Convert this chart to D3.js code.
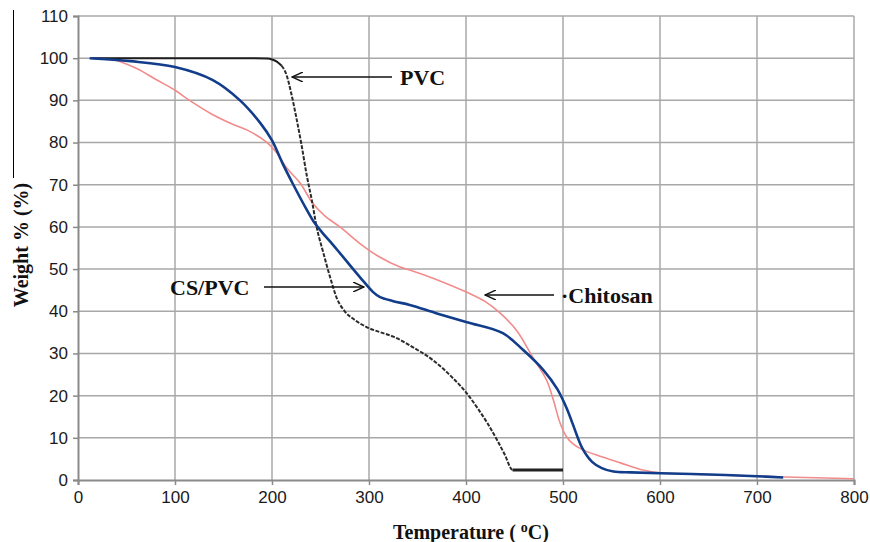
<!DOCTYPE html>
<html>
<head>
<meta charset="utf-8">
<script src="https://cdn.jsdelivr.net/npm/d3@7"></script>
<style>
  body { margin: 0; background: #fff; }
  svg { display: block; }
</style>
</head>
<body>
<div id="chart"></div>
<script>
// TGA curves: weight % vs temperature
var xTicks = [0, 100, 200, 300, 400, 500, 600, 700, 800];
var yTicks = [0, 10, 20, 30, 40, 50, 60, 70, 80, 90, 100, 110];

var pvcT = [15, 60, 120, 180, 195, 200, 205, 210, 215, 220, 225, 230, 236, 241, 246, 253, 260, 267, 275, 285, 298, 312, 325, 345, 366, 385, 401, 412, 422, 432, 440, 448, 500];
var pvcW = [100, 100, 100, 100, 99.9, 99.7, 99.2, 98.2, 96, 91.5, 86, 80, 72, 66.4, 60, 53.8, 48, 43, 40, 38, 36.2, 35, 34, 31.5, 28.4, 24.5, 20.5, 17, 13.5, 9.5, 6, 2.4, 2.4];

var cspvcT = [12, 54, 100, 139, 167, 188, 200, 211, 222, 236, 244, 252, 262, 270, 280, 291, 304, 311, 325, 342, 370, 401, 438, 459, 480, 494, 504, 510, 520, 530, 540, 552, 570, 600, 650, 700, 727];
var cspvcW = [100, 99.3, 97.9, 94.8, 90, 84.6, 80.5, 75, 70, 64, 60.9, 58.6, 56, 53.8, 51, 48, 44.6, 43.4, 42.4, 41.5, 39.5, 37.4, 34.8, 30.8, 26, 21.6, 16.9, 13.3, 7.5, 4.3, 2.8, 2, 1.8, 1.6, 1.3, 0.9, 0.6];

var chitT = [22, 36, 60, 80, 100, 115, 139, 160, 174, 195, 205, 215, 229, 242, 255, 270, 291, 310, 332, 342, 370, 401, 420, 435, 452, 469, 483, 490, 497, 503, 510, 520, 540, 560, 580, 600, 650, 700, 750, 800];
var chitW = [100, 99.7, 97.6, 95, 92.4, 90, 86.6, 84.3, 83, 80, 77.5, 74, 70.4, 65.6, 62.5, 60, 56, 53, 50.5, 49.8, 47.5, 44.5, 42.3, 39.6, 35.5, 29, 23.7, 19, 13.5, 10.5, 8.6, 7.2, 5.5, 4, 2.5, 1.7, 1.3, 0.9, 0.6, 0.3];

var svgWidth = 870, svgHeight = 542;
var margin = {top: 16, left: 78, right: 16, bottom: 62};
var width = 776, height = 464;

var svg = d3.select("#chart").append("svg")
  .attr("width", svgWidth)
  .attr("height", svgHeight);

// scan border artifact at left edge
svg.append("line")
  .attr("x1", 13.5).attr("x2", 13.5)
  .attr("y1", 10).attr("y2", 178)
  .attr("stroke", "#000").attr("stroke-width", 1);

var g = svg.append("g")
  .attr("transform", `translate(${margin.left}, ${margin.top})`);

var x = d3.scaleLinear().domain([0, 800]).range([0, width]);
var y = d3.scaleLinear().domain([0, 110]).range([height, 0]);

// gridlines
g.selectAll(".hgrid").data(yTicks.slice(1)).enter().append("line")
  .attr("x1", 0).attr("x2", width)
  .attr("y1", d => y(d)).attr("y2", d => y(d))
  .attr("stroke", "#a8a8a8").attr("stroke-width", 1.5);
g.selectAll(".vgrid").data(xTicks.slice(1)).enter().append("line")
  .attr("x1", d => x(d)).attr("x2", d => x(d))
  .attr("y1", 0).attr("y2", height)
  .attr("stroke", "#a8a8a8").attr("stroke-width", 1.5);

// axes
var bottomAxis = d3.axisBottom(x).tickValues(xTicks).tickSize(5).tickPadding(4);
var leftAxis = d3.axisLeft(y).tickValues(yTicks).tickSize(5).tickPadding(5);

var xg = g.append("g").attr("transform", `translate(0, ${height})`).call(bottomAxis);
var yg = g.append("g").call(leftAxis);
[xg, yg].forEach(function(a) {
  a.select(".domain").attr("stroke", "#8a8a8a").attr("stroke-width", 2);
  a.selectAll(".tick line").attr("stroke", "#8a8a8a").attr("stroke-width", 1.5);
  a.selectAll(".tick text")
    .attr("fill", "#1a1a1a")
    .style("font-family", "'Liberation Sans', Arial, sans-serif")
    .style("font-size", "17px");
});
xg.selectAll(".tick text").attr("dy", "0.8em");

// curves
var line = d3.line()
  .x(d => x(d[0]))
  .y(d => y(d[1]))
  .curve(d3.curveMonotoneX);
var smooth = d3.line()
  .x(d => x(d[0]))
  .y(d => y(d[1]))
  .curve(d3.curveCatmullRom.alpha(0.5));

function pairs(t, w) { return t.map((v, i) => [v, w[i]]); }

g.append("path").datum(pairs(chitT, chitW))
  .attr("d", smooth).attr("fill", "none")
  .attr("stroke", "#f28b8b").attr("stroke-width", 1.6);

var pvc = pairs(pvcT, pvcW);
// flat start drawn solid, the drop dotted, the residue plateau solid
g.append("path").datum(pvc.filter(d => d[0] <= 210))
  .attr("d", line).attr("fill", "none")
  .attr("stroke", "#1e1e1e").attr("stroke-width", 2);
g.append("path").datum(pvc.filter(d => d[0] >= 210))
  .attr("d", line).attr("fill", "none")
  .attr("stroke", "#2b2b2b").attr("stroke-width", 2)
  .attr("stroke-dasharray", "4,1.5");
g.append("path").datum(pvc.slice(-2))
  .attr("d", line).attr("fill", "none")
  .attr("stroke", "#222").attr("stroke-width", 3);

g.append("path").datum(pairs(cspvcT, cspvcW))
  .attr("d", smooth).attr("fill", "none")
  .attr("stroke", "#123d8a").attr("stroke-width", 2.6);

// arrows
var defs = svg.append("defs");
defs.append("marker")
  .attr("id", "arr")
  .attr("viewBox", "0 0 12 10")
  .attr("refX", 11).attr("refY", 5)
  .attr("markerWidth", 12).attr("markerHeight", 10)
  .attr("markerUnits", "userSpaceOnUse")
  .attr("orient", "auto")
  .append("path")
  .attr("d", "M0,0 L11,5 L0,10")
  .attr("fill", "none").attr("stroke", "#111").attr("stroke-width", 1.4);

var notes = [
  {label: "PVC", tx: 400, ty: 77, x1: 392, x2: 292},
  {label: "CS/PVC", tx: 170, ty: 287, x1: 264, x2: 364},
  {label: "·Chitosan", tx: 561, ty: 295, x1: 554, x2: 485}
];
notes.forEach(function(n) {
  svg.append("line")
    .attr("x1", n.x1).attr("x2", n.x2)
    .attr("y1", n.ty).attr("y2", n.ty)
    .attr("stroke", "#111").attr("stroke-width", 1.5)
    .attr("marker-end", "url(#arr)");
  svg.append("text")
    .attr("x", n.tx).attr("y", n.ty)
    .attr("dy", "0.35em")
    .style("font-family", "'Liberation Serif', 'Times New Roman', serif")
    .style("font-size", "22px")
    .style("font-weight", "bold")
    .attr("fill", "#111")
    .text(n.label);
});

// axis titles
svg.append("text")
  .attr("transform", "translate(28, 245) rotate(-90)")
  .attr("text-anchor", "middle")
  .style("font-family", "'Liberation Serif', 'Times New Roman', serif")
  .style("font-size", "20px")
  .style("font-weight", "bold")
  .attr("fill", "#111")
  .text("Weight % (%)");

var xt = svg.append("text")
  .attr("x", 471).attr("y", 539)
  .attr("text-anchor", "middle")
  .style("font-family", "'Liberation Serif', 'Times New Roman', serif")
  .style("font-size", "20px")
  .style("font-weight", "bold")
  .attr("fill", "#111");
xt.append("tspan").text("Temperature ( ");
xt.append("tspan").attr("dy", -7).style("font-size", "14px").text("o");
xt.append("tspan").attr("dy", 7).text("C)");
</script>
</body>
</html>
